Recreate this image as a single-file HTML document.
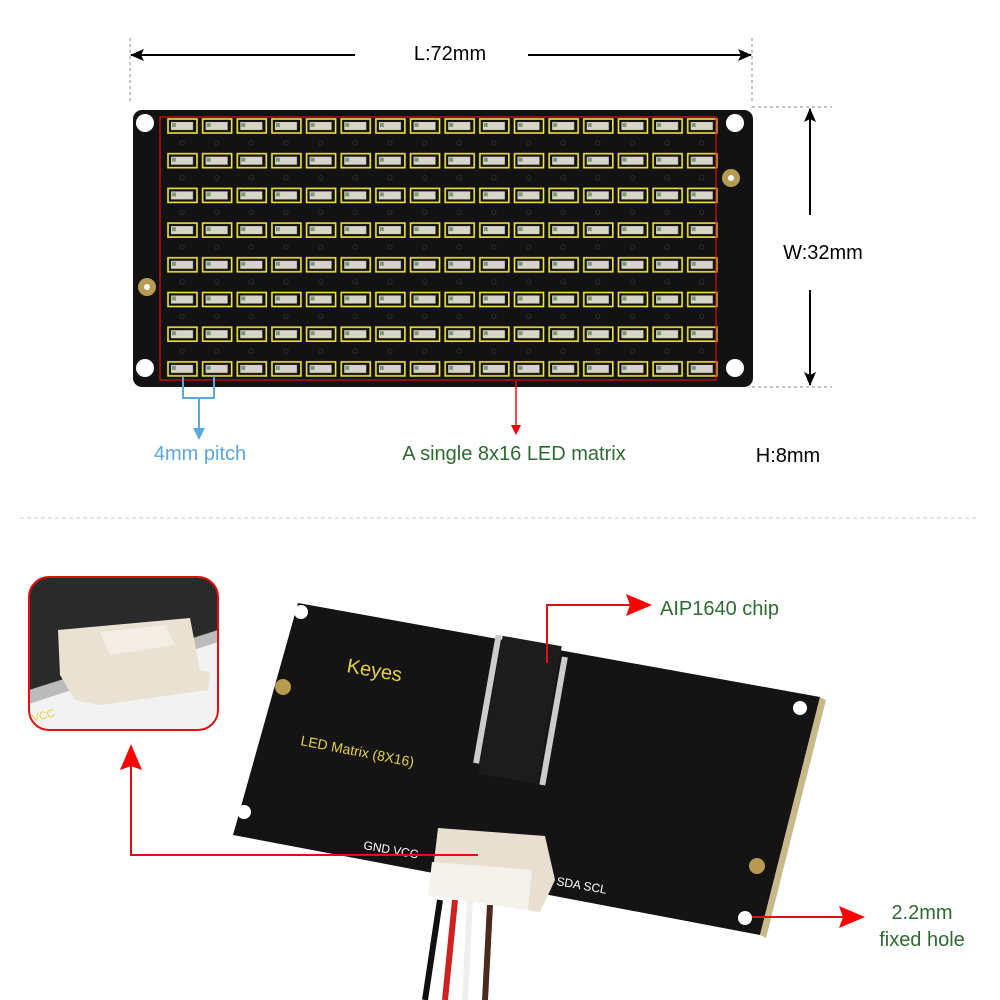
<!DOCTYPE html>
<html><head><meta charset="utf-8"><style>
html,body{margin:0;padding:0;background:#fff}
svg{display:block}
text{font-family:"Liberation Sans",Arial,sans-serif}
</style></head><body>
<svg width="1000" height="1000" viewBox="0 0 1000 1000" xmlns="http://www.w3.org/2000/svg">
<defs>
<pattern id="led" x="166" y="117" width="34.65" height="34.7" patternUnits="userSpaceOnUse">
<rect x="2" y="2" width="29" height="14" fill="#111" stroke="#f1e63a" stroke-width="1.6"/>
<rect x="5" y="5" width="22" height="8" fill="#d8d4c8"/>
<rect x="6" y="6" width="4" height="4" fill="#7a9a6a"/>
<circle cx="16" cy="26" r="2.2" fill="none" stroke="#333" stroke-width="0.8"/>
</pattern>
<marker id="ar" markerWidth="10" markerHeight="10" refX="8" refY="5" orient="auto" markerUnits="userSpaceOnUse"><path d="M0,0 L10,5 L0,10 z" fill="#e00"/></marker>
<marker id="arb" markerWidth="12" markerHeight="12" refX="10" refY="6" orient="auto" markerUnits="userSpaceOnUse"><path d="M0,0 L12,6 L0,12 z" fill="#5aa8e0"/></marker>
<marker id="ak" markerWidth="14" markerHeight="12" refX="13" refY="6" orient="auto" markerUnits="userSpaceOnUse"><path d="M0,0 L14,6 L0,12 L3,6 z" fill="#000"/></marker>
<marker id="ab" markerWidth="26" markerHeight="22" refX="24" refY="11" orient="auto" markerUnits="userSpaceOnUse"><path d="M0,0 L26,11 L0,22 L4,11 z" fill="#f00"/></marker>
</defs>

<line x1="130" y1="38" x2="130" y2="102" stroke="#888" stroke-dasharray="3,3"/>
<line x1="752" y1="38" x2="752" y2="102" stroke="#888" stroke-dasharray="3,3"/>
<line x1="355" y1="55" x2="131" y2="55" stroke="#000" stroke-width="2" marker-end="url(#ak)"/>
<line x1="528" y1="55" x2="751" y2="55" stroke="#000" stroke-width="2" marker-end="url(#ak)"/>
<text x="450" y="60" font-size="20" text-anchor="middle">L:72mm</text>
<line x1="752" y1="107" x2="832" y2="107" stroke="#888" stroke-dasharray="3,3"/>
<line x1="752" y1="387" x2="832" y2="387" stroke="#888" stroke-dasharray="3,3"/>
<line x1="810" y1="215" x2="810" y2="109" stroke="#000" stroke-width="2" marker-end="url(#ak)"/>
<line x1="810" y1="290" x2="810" y2="385" stroke="#000" stroke-width="2" marker-end="url(#ak)"/>
<text x="823" y="259" font-size="20" text-anchor="middle">W:32mm</text>

<rect x="133" y="110" width="620" height="277" rx="9" fill="#121212"/>
<rect x="166" y="117" width="554" height="263" fill="url(#led)"/>
<rect x="160" y="117" width="556" height="263" fill="none" stroke="#e01010" stroke-width="1.2"/>
<circle cx="145" cy="123" r="9" fill="#fff"/><circle cx="735" cy="123" r="9" fill="#fff"/>
<circle cx="145" cy="368" r="9" fill="#fff"/><circle cx="735" cy="368" r="9" fill="#fff"/>
<circle cx="731" cy="178" r="9" fill="#b89a50"/><circle cx="731" cy="178" r="3" fill="#fff"/>
<circle cx="147" cy="287" r="9" fill="#b89a50"/><circle cx="147" cy="287" r="3" fill="#fff"/>

<path d="M183,376 V398 H214 V376" fill="none" stroke="#5aa8e0" stroke-width="2"/>
<line x1="199" y1="398" x2="199" y2="438" stroke="#5aa8e0" stroke-width="2" marker-end="url(#arb)"/>
<text x="200" y="460" font-size="20" fill="#5aa8e0" text-anchor="middle">4mm pitch</text>
<line x1="516" y1="381" x2="516" y2="433" stroke="#e01010" stroke-width="1.5" marker-end="url(#ar)"/>
<text x="514" y="460" font-size="20" fill="#2e6b30" text-anchor="middle">A single 8x16 LED matrix</text>
<text x="788" y="462" font-size="20" text-anchor="middle">H:8mm</text>

<line x1="20" y1="518" x2="978" y2="518" stroke="#ccc" stroke-dasharray="4,3"/>

<clipPath id="ic"><rect x="29" y="577" width="189" height="153" rx="20"/></clipPath>
<g clip-path="url(#ic)">
<rect x="29" y="577" width="189" height="153" fill="#2a2a2a"/>
<polygon points="29,700 218,640 218,730 29,730" fill="#f2f2f2"/>
<polygon points="29,690 218,630 218,642 29,704" fill="#bbb"/>
<polygon points="58,630 190,618 200,670 210,672 208,690 100,705 75,700 60,675" fill="#e9e1d2"/>
<polygon points="100,632 165,625 175,645 110,655" fill="#f3eee4"/>
<text x="33" y="722" font-size="11" fill="#e8d040" transform="rotate(-15 33 722)">VCC</text>
</g>
<rect x="29" y="577" width="189" height="153" rx="20" fill="none" stroke="#e01010" stroke-width="2"/>

<polygon points="298,603 820,697 760,935 233,835" fill="#141414"/>
<polygon points="820,697 826,700 766,938 760,935" fill="#c8b98a"/>
<rect x="490" y="640" width="60" height="140" fill="#1c1c1c" transform="rotate(10 520 710)"/>
<rect x="483" y="640" width="6" height="130" fill="#ccc" transform="rotate(10 520 710)"/>
<rect x="552" y="650" width="6" height="130" fill="#ccc" transform="rotate(10 520 710)"/>
<circle cx="301" cy="612" r="7" fill="#fff"/><circle cx="800" cy="708" r="7" fill="#fff"/>
<circle cx="244" cy="812" r="7" fill="#fff"/><circle cx="745" cy="918" r="7" fill="#fff"/>
<circle cx="283" cy="687" r="8" fill="#b89a50"/><circle cx="757" cy="866" r="8" fill="#b89a50"/>
<text x="346" y="672" font-size="20" fill="#e8d040" transform="rotate(10 346 672)">Keyes</text>
<text x="300" y="745" font-size="14" fill="#e8d040" transform="rotate(11 300 745)">LED Matrix (8X16)</text>
<text x="363" y="849" font-size="12" fill="#fff" transform="rotate(10 363 849)">GND  VCC</text>
<text x="556" y="885" font-size="12" fill="#fff" transform="rotate(10 556 885)">SDA  SCL</text>
<path d="M440,900 L425,1000" stroke="#111" stroke-width="6"/>
<path d="M455,900 L445,1000" stroke="#d02020" stroke-width="6"/>
<path d="M470,900 L465,1000" stroke="#eee" stroke-width="6"/>
<path d="M490,905 L485,1000" stroke="#4a2a1c" stroke-width="6"/>
<polygon points="438,828 545,836 555,880 540,912 430,895" fill="#e8dfd0"/>
<polygon points="432,862 532,870 528,910 428,895" fill="#f5f2ec"/>

<path d="M478,855 H131 V746" fill="none" stroke="#e01010" stroke-width="2" marker-end="url(#ab)"/>
<path d="M547,663 V605 H650" fill="none" stroke="#e01010" stroke-width="2" marker-end="url(#ab)"/>
<path d="M752,917 H863" fill="none" stroke="#e01010" stroke-width="2" marker-end="url(#ab)"/>
<text x="660" y="615" font-size="20" fill="#2e6b30">AIP1640 chip</text>
<text x="922" y="919" font-size="20" fill="#2e6b30" text-anchor="middle">2.2mm</text>
<text x="922" y="946" font-size="20" fill="#2e6b30" text-anchor="middle">fixed hole</text>
</svg>
</body></html>
